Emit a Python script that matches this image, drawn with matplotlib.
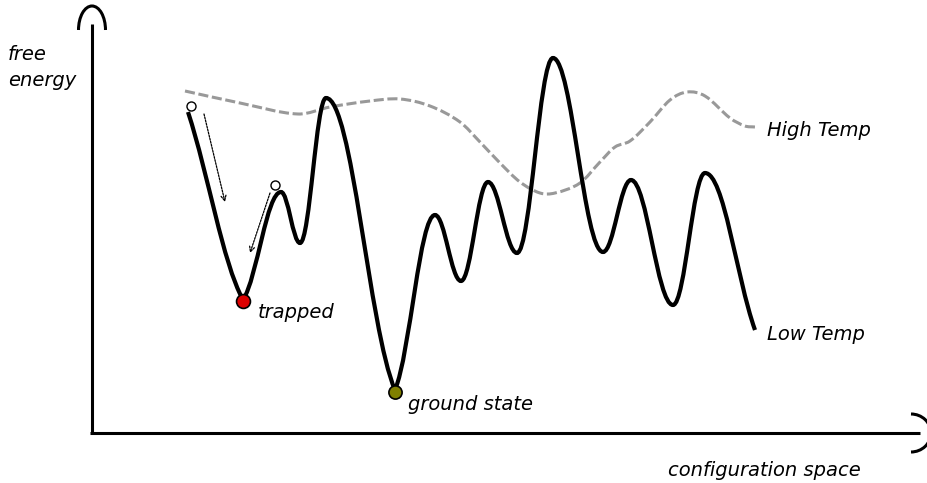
import numpy as np
import matplotlib
matplotlib.use("Agg")
import matplotlib.pyplot as plt
from matplotlib.path import Path
from matplotlib.patches import PathPatch, Arc

# ---- data (pixel-like coordinates of the sketch, y grows downward) ----
low_x = [188, 243, 281, 300, 326, 395, 435, 461, 488, 517, 553, 603, 631, 673, 705, 755]
low_y = [112, 300, 192, 243, 98, 390, 215, 281, 182, 253, 58, 252, 180, 305, 173, 330]

high_x = [185, 240, 298, 330, 370, 400, 430, 460, 480, 500, 520, 540, 555, 580, 600, 615, 630, 650, 670, 687, 705, 730, 745, 755]
high_y = [91, 103, 114, 107, 101, 99, 106, 122, 142, 163, 182, 193, 193, 183, 162, 147, 141, 122, 100, 92, 96, 118, 126, 127]

trapped_pt = (243, 301)
ground_pt = (395, 392)
start_pts_x = [191, 275]
start_pts_y = [106, 185]
arrow_starts = [(204, 114), (270, 193)]
arrow_ends = [(225, 202), (250, 253)]

labels = {
    "free\nenergy": (8, 45),
    "High Temp": (767, 130),
    "Low Temp": (767, 335),
    "trapped": (258, 313),
    "ground state": (408, 404),
    "configuration space": (668, 470),
}

W, H = 928, 483
fig = plt.figure(figsize=(W / 100, H / 100), dpi=100)
ax = fig.add_axes([0, 0, 1, 1])
ax.set_xlim(0, W)
ax.set_ylim(H, 0)
ax.axis("off")


def bezier_path(xs, ys, slopes_out, slopes_in, k=0.38):
    verts = [(xs[0], ys[0])]
    codes = [Path.MOVETO]
    for i in range(len(xs) - 1):
        dx = xs[i + 1] - xs[i]
        m0 = slopes_out[i]
        m1 = slopes_in[i + 1]
        c1 = (xs[i] + k * dx, ys[i] + k * dx * m0)
        c2 = (xs[i + 1] - k * dx, ys[i + 1] - k * dx * m1)
        verts += [c1, c2, (xs[i + 1], ys[i + 1])]
        codes += [Path.CURVE4] * 3
    return Path(verts, codes)


# Low temp curve: horizontal tangents at rounded extrema, steeper at sharp valleys
n = len(low_x)
s_out = [0.0] * n
s_in = [0.0] * n
chord = [(low_y[i + 1] - low_y[i]) / (low_x[i + 1] - low_x[i]) for i in range(n - 1)]
s_out[0] = chord[0] * 0.9
s_in[-1] = chord[-1] * 0.9
for idx in (1, 5):  # sharp valleys
    s_in[idx] = chord[idx - 1] * 0.55
    s_out[idx] = chord[idx] * 0.55
low_path = bezier_path(low_x, low_y, s_out, s_in)
ax.add_patch(PathPatch(low_path, fill=False, lw=3.0, ec="black", capstyle="butt", zorder=3))

# High temp curve: Catmull-Rom style tangents through the points
m = len(high_x)
hs = []
for i in range(m):
    a = max(i - 1, 0)
    b = min(i + 1, m - 1)
    hs.append((high_y[b] - high_y[a]) / (high_x[b] - high_x[a]))
high_path = bezier_path(high_x, high_y, hs, hs, k=1 / 3)
hp = PathPatch(high_path, fill=False, lw=2.2, ec="#999999", zorder=2)
hp.set_linestyle((0, (3.3, 1.2)))
hp.set_capstyle("butt")
ax.add_patch(hp)

# axes lines with curved caps
ax.plot([92, 92], [433, 24], color="black", lw=2.2, solid_capstyle="butt")
ax.plot([90, 920], [433, 433], color="black", lw=2.2, solid_capstyle="butt")
ax.add_patch(Arc((92, 30), 27, 48, theta1=180, theta2=360, lw=2.2, color="black"))
ax.add_patch(Arc((911, 433), 40, 38, theta1=-90, theta2=90, lw=2.2, color="black"))

# markers
ax.plot(*trapped_pt, "o", ms=10, mfc="#dd0000", mec="black", mew=1.2, zorder=5)
ax.plot(*ground_pt, "o", ms=9.5, mfc="#808000", mec="black", mew=1.2, zorder=5)
ax.plot(start_pts_x, start_pts_y, "o", ms=6.5, mfc="white", mec="black", mew=1.0, ls="none", zorder=5)

# dotted arrows
for s, e in zip(arrow_starts, arrow_ends):
    ax.annotate("", xy=e, xytext=s,
                arrowprops=dict(arrowstyle="->", lw=0.9, ls=(0, (1.5, 1.0)), color="black",
                                shrinkA=0, shrinkB=0, mutation_scale=9))

# labels
for txt, (x, y) in labels.items():
    va = "top" if "\n" in txt else "center"
    ax.text(x, y, txt, fontsize=14, style="italic", ha="left", va=va,
            family="DejaVu Sans", linespacing=1.45)

fig.savefig("out.png", dpi=100)
